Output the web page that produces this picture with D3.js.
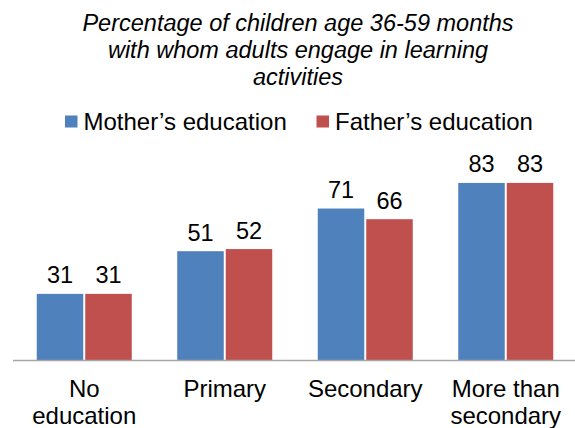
<!DOCTYPE html>
<html><head><meta charset="utf-8">
<script src="https://cdn.jsdelivr.net/npm/d3@7"></script>
<style>
html,body{margin:0;padding:0;background:#fff;}
svg{display:block;font-family:"Liberation Sans",Arial,sans-serif;}
</style></head>
<body>
<svg id="chart" width="575" height="428"></svg>
<script>
const titleLines = ["Percentage of children age 36-59 months", "with whom adults engage in learning", "activities"];
const categories = ["No education", "Primary", "Secondary", "More than secondary"];
const tickLabels = [["No", "education"], ["Primary"], ["Secondary"], ["More than", "secondary"]];
const seriesNames = ["Mother\u2019s education", "Father\u2019s education"];
const mothers = [31, 51, 71, 83];
const fathers = [31, 52, 66, 83];
const colors = ["#4F81BD", "#C0504D"];

const svg = d3.select("#chart");
const baseY = 360;

const x0 = d3.scaleBand().domain(categories).range([14, 576]).paddingInner(0).paddingOuter(0);
const x1 = d3.scaleBand().domain(seriesNames).range([0, x0.bandwidth()]).paddingInner(0.041).paddingOuter(0.469);
const y = d3.scaleLinear().domain([0, 90]).range([baseY, 168]);

// title
const title = svg.append("text").attr("text-anchor", "middle")
  .attr("font-size", 23.5).attr("font-style", "italic").attr("fill", "#000");
titleLines.forEach((t, i) => {
  title.append("tspan").attr("x", 298).attr("y", 31 + i * 27).text(t);
});

// legend
const legendX = [65, 316.5];
seriesNames.forEach((s, i) => {
  const g = svg.append("g").attr("transform", `translate(${legendX[i]},0)`);
  g.append("rect").attr("x", 0).attr("y", 115.5).attr("width", 12.5).attr("height", 12).attr("fill", colors[i]);
  g.append("text").attr("x", 18.5).attr("y", 130).attr("font-size", 24).attr("fill", "#000").text(s);
});

// bars
const data = categories.map((c, i) => ({cat: c, vals: [mothers[i], fathers[i]]}));
const groups = svg.append("g").selectAll("g").data(data).join("g")
  .attr("transform", d => `translate(${x0(d.cat)},0)`);
groups.selectAll("rect").data(d => d.vals.map((v, i) => ({s: seriesNames[i], v, i})))
  .join("rect")
  .attr("x", d => x1(d.s)).attr("width", x1.bandwidth())
  .attr("y", d => y(d.v)).attr("height", d => baseY - y(d.v))
  .attr("fill", d => colors[d.i]);
groups.selectAll("text").data(d => d.vals.map((v, i) => ({s: seriesNames[i], v, i})))
  .join("text")
  .attr("x", d => x1(d.s) + x1.bandwidth() / 2)
  .attr("y", d => y(d.v) - 10.5)
  .attr("text-anchor", "middle").attr("font-size", 23.5).attr("fill", "#000")
  .text(d => d.v);

// x axis (labels drawn below via the same band scale)
const xAxis = svg.append("g").attr("transform", `translate(0,${baseY})`)
  .call(d3.axisBottom(x0).tickSize(0).tickFormat(""));
xAxis.select(".domain").remove();
svg.append("line").attr("x1", 13).attr("x2", 575).attr("y1", baseY + 0.5).attr("y2", baseY + 0.5)
  .attr("stroke", "#A6A6A6").attr("stroke-width", 1.5);

categories.forEach((c, i) => {
  const t = svg.append("text").attr("text-anchor", "middle").attr("font-size", 24).attr("fill", "#000");
  tickLabels[i].forEach((line, j) => {
    t.append("tspan").attr("x", x0(c) + x0.bandwidth() / 2).attr("y", 397 + j * 26.5).text(line);
  });
});
</script>
</body></html>
